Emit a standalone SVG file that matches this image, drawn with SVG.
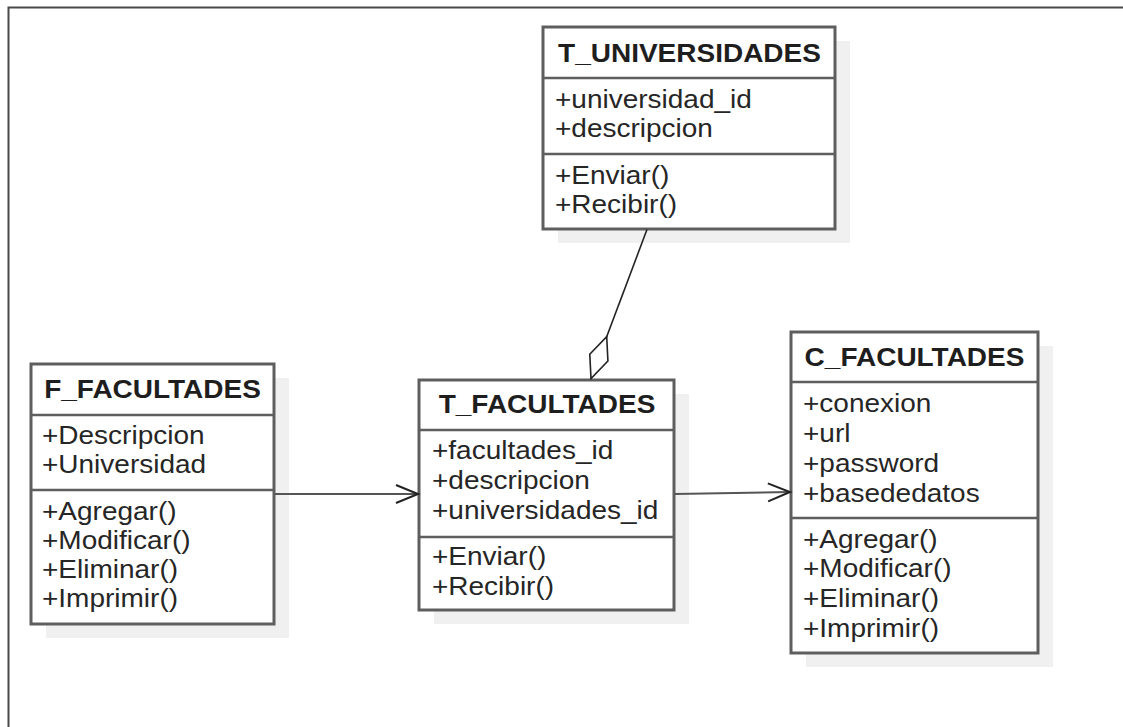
<svg xmlns="http://www.w3.org/2000/svg" width="1123" height="727" viewBox="0 0 1123 727">
  <style>
    .shadow { fill: #f0f0f0; }
    .box { fill: #ffffff; stroke: #5e5e5e; stroke-width: 3; }
    .sep { stroke: #5e5e5e; stroke-width: 2.6; }
    .title { font-family: "Liberation Sans", Arial, sans-serif; font-weight: bold; font-size: 25px; fill: #1e1e1e; text-anchor: middle; }
    .item { font-family: "Liberation Sans", Arial, sans-serif; font-size: 25px; fill: #262626; }
    .frame { fill: none; stroke: #4a4a4a; stroke-width: 2; }
    .dep { fill: none; stroke: #555555; stroke-width: 2; }
    .agg { fill: none; stroke: #222222; stroke-width: 1.6; }
  </style>
  <defs>
    <marker id="open-arrow" markerUnits="userSpaceOnUse" markerWidth="30" markerHeight="24" viewBox="-26 -12 30 24" refX="0" refY="0" orient="auto">
      <path d="M-22,-9 L0,0 L-22,9" fill="none" stroke="#222222" stroke-width="2"/>
    </marker>
    <marker id="diamond" markerUnits="userSpaceOnUse" markerWidth="50" markerHeight="24" viewBox="-2 -12 50 24" refX="0" refY="0" orient="auto">
      <path d="M0,0 L22.3,-9.7 L44.6,0 L22.3,9.7 Z" fill="#ffffff" stroke="#222222" stroke-width="1.6"/>
    </marker>
  </defs>

  <rect width="1123" height="727" fill="#ffffff"/>
  <path class="frame" d="M8.5,727 V7.5 H1123"/>

  <!-- T_UNIVERSIDADES -->
  <g id="t_universidades">
    <rect class="shadow" x="558" y="41" width="292" height="202"/>
    <rect class="box" x="543" y="27" width="292" height="202"/>
    <line class="sep" x1="543" y1="78" x2="835" y2="78"/>
    <line class="sep" x1="543" y1="154" x2="835" y2="154"/>
    <g transform="translate(689.5,0) scale(1.12,1)">
      <text class="title" x="0" y="62">T_UNIVERSIDADES</text>
    </g>
    <g transform="translate(555,0) scale(1.12,1)">
      <text class="item" x="0" y="108">+universidad_id</text>
      <text class="item" x="0" y="137.5">+descripcion</text>
      <text class="item" x="0" y="184">+Enviar()</text>
      <text class="item" x="0" y="213">+Recibir()</text>
    </g>
  </g>

  <!-- F_FACULTADES -->
  <g id="f_facultades">
    <rect class="shadow" x="46" y="378" width="243" height="260"/>
    <rect class="box" x="31" y="364" width="243" height="260"/>
    <line class="sep" x1="31" y1="415" x2="274" y2="415"/>
    <line class="sep" x1="31" y1="490" x2="274" y2="490"/>
    <g transform="translate(152.5,0) scale(1.12,1)">
      <text class="title" x="0" y="398">F_FACULTADES</text>
    </g>
    <g transform="translate(42,0) scale(1.12,1)">
      <text class="item" x="0" y="444">+Descripcion</text>
      <text class="item" x="0" y="473">+Universidad</text>
      <text class="item" x="0" y="520">+Agregar()</text>
      <text class="item" x="0" y="549">+Modificar()</text>
      <text class="item" x="0" y="578">+Eliminar()</text>
      <text class="item" x="0" y="607">+Imprimir()</text>
    </g>
  </g>

  <!-- T_FACULTADES -->
  <g id="t_facultades">
    <rect class="shadow" x="434" y="394" width="255" height="230"/>
    <rect class="box" x="419" y="380" width="255" height="230"/>
    <line class="sep" x1="419" y1="430" x2="674" y2="430"/>
    <line class="sep" x1="419" y1="537" x2="674" y2="537"/>
    <g transform="translate(547,0) scale(1.12,1)">
      <text class="title" x="0" y="413">T_FACULTADES</text>
    </g>
    <g transform="translate(432,0) scale(1.12,1)">
      <text class="item" x="0" y="459">+facultades_id</text>
      <text class="item" x="0" y="489">+descripcion</text>
      <text class="item" x="0" y="519">+universidades_id</text>
      <text class="item" x="0" y="565">+Enviar()</text>
      <text class="item" x="0" y="595">+Recibir()</text>
    </g>
  </g>

  <!-- C_FACULTADES -->
  <g id="c_facultades">
    <rect class="shadow" x="806" y="346" width="247" height="321"/>
    <rect class="box" x="791" y="332" width="247" height="321"/>
    <line class="sep" x1="791" y1="382" x2="1038" y2="382"/>
    <line class="sep" x1="791" y1="518" x2="1038" y2="518"/>
    <g transform="translate(914.5,0) scale(1.12,1)">
      <text class="title" x="0" y="366">C_FACULTADES</text>
    </g>
    <g transform="translate(803,0) scale(1.12,1)">
      <text class="item" x="0" y="412">+conexion</text>
      <text class="item" x="0" y="442">+url</text>
      <text class="item" x="0" y="472">+password</text>
      <text class="item" x="0" y="502">+basededatos</text>
      <text class="item" x="0" y="548">+Agregar()</text>
      <text class="item" x="0" y="577">+Modificar()</text>
      <text class="item" x="0" y="607">+Eliminar()</text>
      <text class="item" x="0" y="637">+Imprimir()</text>
    </g>
  </g>

  <!-- connectors, drawn over the drop shadows -->
  <g id="connectors">
    <path class="agg" d="M591,378.5 L647,229.5" marker-start="url(#diamond)"/>
    <path class="dep" d="M275,494 L418,494" marker-end="url(#open-arrow)"/>
    <path class="dep" d="M675,494 L790,492" marker-end="url(#open-arrow)"/>
  </g>
</svg>
